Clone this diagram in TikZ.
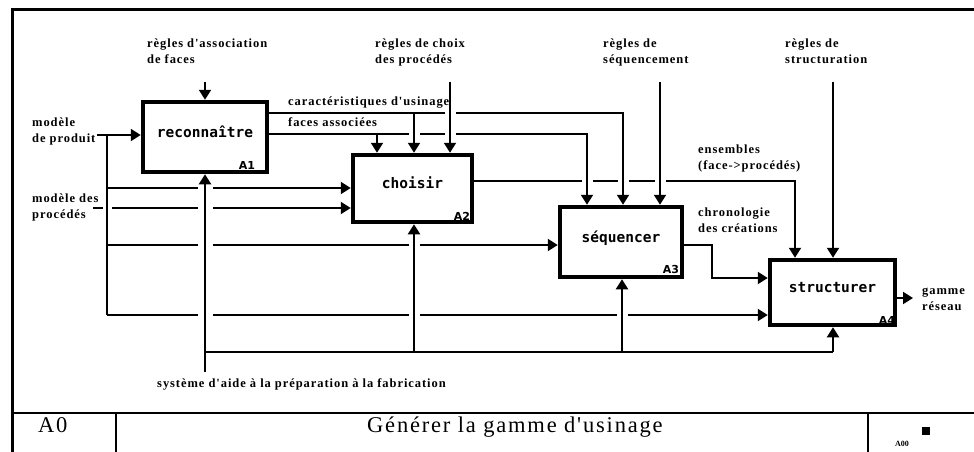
\documentclass[tikz,border=0pt]{standalone}
\usepackage{fontspec}
\setmainfont{Liberation Serif}
\newfontfamily\boxfont{DejaVu Sans Mono}
\newfontfamily\idxfont{DejaVu Sans}
\newfontfamily\lblfont[LetterSpace=7.5]{Liberation Serif}
\newfontfamily\titlefont[LetterSpace=8]{Liberation Serif}
\usepackage{tikz}
\usetikzlibrary{arrows.meta}

\begin{document}
\begin{tikzpicture}[x=1pt,y=-1pt,
  >={Triangle[width=12pt,length=10pt]},
  act/.style={draw,line width=4.5pt,inner sep=0pt,text height=10pt,text depth=10pt,
    font=\boxfont\bfseries\fontsize{14.5}{16}\selectfont},
  idx/.style={font=\idxfont\bfseries\fontsize{11}{12}\selectfont,inner sep=0pt,anchor=south east},
  lbl/.style={font=\lblfont\bfseries\fontsize{12.5}{16.5}\selectfont,align=left,inner sep=0pt,anchor=base west},
  flow/.style={line width=2pt},
  over/.style={preaction={draw=white,-,line width=#1,shorten <=5pt,shorten >=5pt}},
  over/.default=11pt]
\useasboundingbox (0,0) rectangle (974,452);

\draw[line width=3pt] (12,452) -- (12,10) -- (974,10);
\draw[line width=2.5pt] (12,413) -- (974,413);
\draw[line width=2.5pt] (116,413) -- (116,452);
\draw[line width=2.5pt] (868,413) -- (868,452);
\node[anchor=base west,font=\titlefont\fontsize{22.5}{24}\selectfont,inner sep=0pt] (a0) at (38,432) {A0};
\node[anchor=base west,font=\titlefont\fontsize{22.5}{24}\selectfont,inner sep=0pt] (titre) at (367,432) {Générer la gamme d'usinage};
\node[anchor=base west,font=\bfseries\fontsize{8}{9}\selectfont,inner sep=0pt] (a00) at (895,446) {A00};
\node[fill,minimum size=8pt,inner sep=0pt] (marque) at (926,431) {};

\node[act,minimum width=124pt,minimum height=70pt] (a1) at (205,137) {reconnaître};
\node[act,minimum width=119pt,minimum height=67pt] (a2) at (412.5,188.5) {choisir};
\node[act,minimum width=122pt,minimum height=70pt] (a3) at (621,242) {séquencer};
\node[act,minimum width=125pt,minimum height=65pt] (a4) at (832.5,292.5) {structurer};
\node[idx] at ([shift={(-14,-5)}]a1.south east) {A1};
\node[idx] at ([shift={(-4,-4)}]a2.south east) {A2};
\node[idx] at ([shift={(-5,-5)}]a3.south east) {A3};
\node[idx] at ([shift={(-2,-3)}]a4.south east) {A4};

\coordinate (c1) at (205,82);
\coordinate (c2) at (450,82);
\coordinate (c3) at (660,82);
\coordinate (c4) at (833,82);
\coordinate (e1) at (795,181);
\coordinate (f1) at (587,134);
\coordinate (f2) at (377,134);
\coordinate (k1) at (623,113);
\coordinate (k2) at (414,113);
\coordinate (s1) at (712,245);
\coordinate (s2) at (712,278);
\coordinate (g0) at (913,298);
\coordinate (p0) at (97,135);
\coordinate (q0) at (93,208);
\coordinate (bus) at (107,135);
\coordinate (b2) at (107,188);
\coordinate (b3) at (107,245);
\coordinate (b4) at (107,315);
\coordinate (m0) at (205,372);
\coordinate (m1) at (205,352);
\coordinate (m2) at (414,352);
\coordinate (m3) at (622,352);
\coordinate (m4) at (833,352);

\draw[flow,->] (c1) -- (a1.north);
\draw[flow,->] (e1 -| a2.east) -- (e1) -- (e1 |- a4.north);
\draw[flow,over,->] (f1 -| a1.east) -- (f1) -- (f1 |- a3.north);
\draw[flow,over,->] (k1 -| a1.east) -- (k1) -- (k1 |- a3.north);
\draw[flow,->] (f2) -- (f2 |- a2.north);
\draw[flow,over,->] (k2) -- (k2 |- a2.north);
\draw[flow,over,->] (c2) -- (c2 |- a2.north);
\draw[flow,over,->] (c3) -- (c3 |- a3.north);
\draw[flow,->] (c4) -- (c4 |- a4.north);
\draw[flow,->] (s1 -| a3.east) -- (s1) -- (s2) -- (s2 -| a4.west);
\draw[flow,->] (g0 -| a4.east) -- (g0);

\draw[flow,->] (p0) -- (p0 -| a1.west);
\draw[flow,->] (q0) -- (q0 -| a2.west);
\draw[flow,over=9pt] (bus) -- (b4);
\draw[flow,->] (b2) -- (b2 -| a2.west);
\draw[flow,->] (b3) -- (b3 -| a3.west);
\draw[flow,->] (b4) -- (b4 -| a4.west);

\draw[flow,over=15pt,->] (m0) -- (m0 |- a1.south);
\draw[flow,over,->] (m2) -- (m2 |- a2.south);
\draw[flow,over,->] (m3) -- (m3 |- a3.south);
\draw[flow,->] (m4) -- (m4 |- a4.south);
\draw[flow] (m1) -- (m4);

\node[lbl] (lassoc) at (147,63.5) {règles d'association\\de faces};
\node[lbl] (lchoix) at (375,63.5) {règles de choix\\des procédés};
\node[lbl] (lseq) at (603,63.5) {règles de\\séquencement};
\node[lbl] (lstruct) at (785,63.5) {règles de\\structuration};
\node[lbl] (lcar) at (288,105) {caractéristiques d'usinage};
\node[lbl] (lfaces) at (288,126) {faces associées};
\node[lbl] (lens) at (698,169.5) {ensembles\\(face->procédés)};
\node[lbl] (lchrono) at (698,232.5) {chronologie\\des créations};
\node[lbl] (lgamme) at (922,310.5) {gamme\\réseau};
\node[lbl] (lprod) at (32,142.5) {modèle\\de produit};
\node[lbl] (lproc) at (32,218.5) {modèle des\\procédés};
\node[lbl] (lsys) at (157,387) {système d'aide à la préparation à la fabrication};
\end{tikzpicture}
\end{document}
